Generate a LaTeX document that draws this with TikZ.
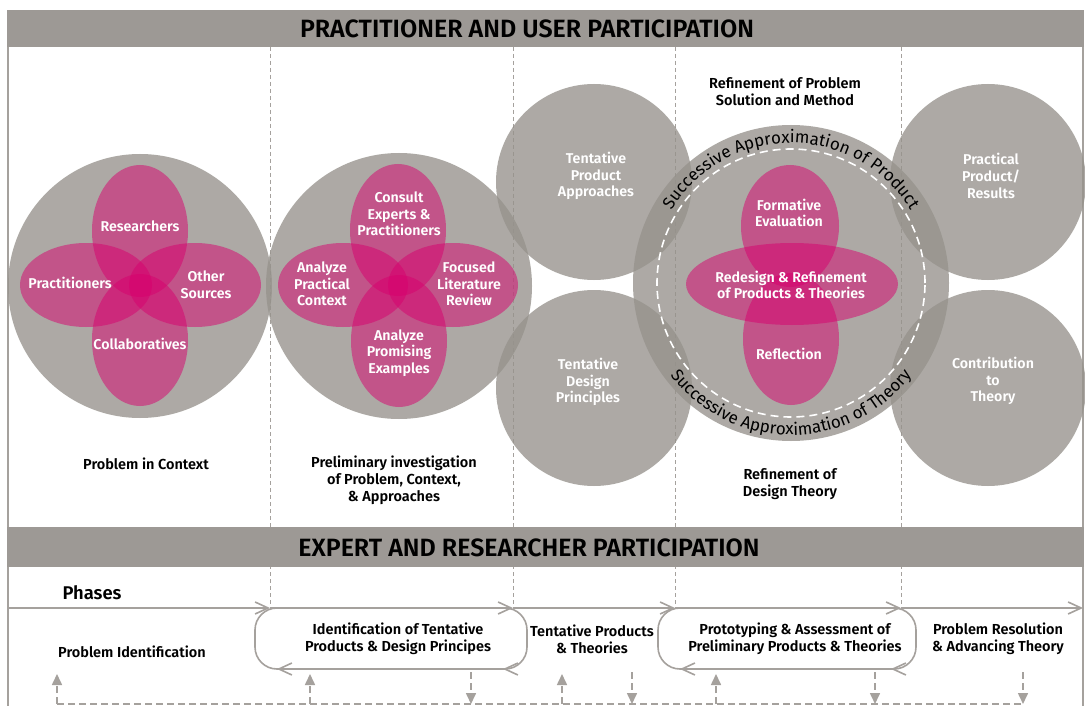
\documentclass[tikz,border=0pt]{standalone}
\usepackage{fontspec}
\setmainfont{Fira Sans}[BoldFont={Fira Sans SemiBold}]
\usetikzlibrary{arrows.meta,shapes.geometric,decorations.text}
\definecolor{band}{HTML}{9D9995}
\definecolor{lgray}{HTML}{A5A19D}
\definecolor{cgray}{HTML}{96928C}
\definecolor{mag}{HTML}{D7006E}
\begin{document}
\begin{tikzpicture}[x=1pt,y=-1pt,
  gcirc/.style={circle, fill=cgray, fill opacity=0.78, inner sep=0pt, minimum size=#1},
  mell/.style 2 args={ellipse, fill=mag, fill opacity=0.5, inner sep=0pt, minimum width=#1, minimum height=#2},
  wtxt/.style={text=white, font=\bfseries\fontsize{14.2}{16.7}\selectfont, align=center, inner sep=0pt},
  btxt/.style={text=black, font=\bfseries\fontsize{14.5}{17}\selectfont, align=center, inner sep=0pt},
  bandtxt/.style={text=black, font=\bfseries\fontsize{25}{28}\selectfont, inner sep=0pt},
  bandbox/.style={fill=band, inner sep=0pt, minimum width=1077pt, minimum height=#1, anchor=north west},
  vdash/.style={draw=lgray, line width=0.8pt, dash pattern=on 4pt off 3pt},
  frameline/.style={draw=lgray, line width=2pt},
  barb/.style={draw=lgray, line width=1.6pt, -{Straight Barb[length=13pt,width=12pt]}},
  loopline/.style={draw=lgray, line width=1.6pt, rounded corners=22pt},
  darr/.style={draw=lgray, line width=1.6pt, dash pattern=on 7pt off 4pt, -{Triangle[length=11pt,width=10pt]}},
  dline/.style={draw=lgray, line width=1.6pt, dash pattern=on 7pt off 4pt},
  arctext/.style={decorate, decoration={text along path, text align=center, text color=black, text={|\fontsize{17}{17}\selectfont|#1}}}
]
\path[use as bounding box] (0,0) rectangle (1085,706);
\fill[white] (0,0) rectangle (1085,706);

% vertical dashed separators
\foreach \x/\n in {270/1, 513/2, 675/3, 901/4} {
  \coordinate (vt\n) at (\x,47);
  \coordinate (p\n) at (\x,608);
  \draw[vdash] (vt\n) -- (p\n);
}
\coordinate (p0) at (8,608);
\coordinate (p5) at (1083,608);

% frame
\coordinate (fl1) at (8,47); \coordinate (fl2) at (8,706);
\coordinate (fr1) at (1083,47); \coordinate (fr2) at (1083,706);
\draw[frameline] (fl1) -- (fl2);
\draw[frameline] (fr1) -- (fr2);

% gray circles
\node[gcirc=264pt] (c1) at (140,286) {};
\node[gcirc=266pt] (c2) at (399,286) {};
\node[gcirc=196pt] (tpa) at (594,182) {};
\node[gcirc=196pt] (tdp) at (594,388) {};
\node[gcirc=316pt] (big) at (791,283) {};
\node[gcirc=196pt] (ppr) at (988,182) {};
\node[gcirc=196pt] (ctt) at (988,388) {};

% dashed white circle and arc texts
\draw[white, line width=1.6pt, dash pattern=on 8pt off 5pt] (big.center) circle[radius=134pt];
\path[arctext={Successive Approximation of Product}] ([shift={(170:140pt)}]big.center) arc[start angle=170, end angle=10, radius=140pt];
\path[arctext={Successive Approximation of Theory}] ([shift={(190:152pt)}]big.center) arc[start angle=190, end angle=350, radius=152pt];

% magenta ellipses
\node[mell={96pt}{132pt}] (e1t) at (140,231) {};
\node[mell={96pt}{132pt}] (e1b) at (140,340) {};
\node[mell={132pt}{84pt}] (e1l) at (86,285) {};
\node[mell={132pt}{84pt}] (e1r) at (195,285) {};

\node[mell={96pt}{132pt}] (e2t) at (398,230) {};
\node[mell={96pt}{132pt}] (e2b) at (399,341) {};
\node[mell={130pt}{84pt}] (e2l) at (343,285) {};
\node[mell={130pt}{84pt}] (e2r) at (453,285) {};

\node[mell={98pt}{122pt}] (e3t) at (790,226) {};
\node[mell={96pt}{132pt}] (e3b) at (791,339) {};
\node[mell={212pt}{82pt}] (e3h) at (792,284) {};

% white labels
\node[wtxt] (lres) at (140,226) {Researchers};
\node[wtxt] (lpra) at (70,283) {Practitioners};
\node[wtxt] (loth) at (206,285) {Other\\Sources};
\node[wtxt] (lcol) at (140,344) {Collaboratives};

\node[wtxt] (lcon) at (399,214) {Consult\\Experts \&\\Practitioners};
\node[wtxt] (lapc) at (322,284) {Analyze\\Practical\\Context};
\node[wtxt] (lflr) at (469,284) {Focused\\Literature\\Review};
\node[wtxt] (lape) at (399,353) {Analyze\\Promising\\Examples};

\node[wtxt] (ltpa) at (596,176) {Tentative\\Product\\Approaches};
\node[wtxt] (ltdp) at (588,382) {Tentative\\Design\\Principles};

\node[wtxt] (lfe) at (789,213) {Formative\\Evaluation};
\node[wtxt] (lrr) at (791,285) {Redesign \& Refinement\\of Products \& Theories};
\node[wtxt] (lref) at (789,354) {Reflection};

\node[wtxt] (lppr) at (991,176) {Practical\\Product/\\Results};
\node[wtxt] (lctt) at (993,381) {Contribution\\to\\Theory};

% black labels
\node[btxt] (lrpsm) at (785,92) {Refinement of Problem\\Solution and Method};
\node[btxt] (lrdt) at (790,484) {Refinement of\\Design Theory};
\node[btxt] (lpic) at (146,464) {Problem in Context};
\node[btxt] (lpi) at (394,480) {Preliminary investigation\\of Problem, Context,\\\& Approaches};

% bands
\node[bandbox=37pt] (band1) at (7,10) {};
\node[bandtxt] (band1t) at (527,29) {PRACTITIONER AND USER PARTICIPATION};
\node[bandbox=40pt] (band2) at (7,527) {};
\node[bandtxt] (band2t) at (529,548) {EXPERT AND RESEARCHER PARTICIPATION};

% phases
\node[text=black, font=\bfseries\fontsize{18.4}{20}\selectfont, inner sep=0pt] (phases) at (92,593) {Phases};
\draw[barb] (p0) -- (p1);
\draw[barb] (p1) -- (p2);
\draw[barb] (p2) -- (p3);
\draw[barb] (p3) -- (p4);
\draw[barb] (p4) -- (p5);

\draw[loopline] (255,608) rectangle (527,669);
\draw[loopline] (658,608) rectangle (916,669);
\coordinate (q1a) at (292,669); \coordinate (q1b) at (277,669);
\coordinate (q2a) at (507,669); \coordinate (q2b) at (503,669);
\coordinate (q3a) at (695,669); \coordinate (q3b) at (680,669);
\coordinate (q4a) at (895,669); \coordinate (q4b) at (891,669);
\draw[barb] (q1a) -- (q1b);
\draw[barb] (q2a) -- (q2b);
\draw[barb] (q3a) -- (q3b);
\draw[barb] (q4a) -- (q4b);

\node[btxt] (ph1) at (132,652) {Problem Identification};
\node[btxt] (ph2) at (398,639) {Identification of Tentative\\Products \& Design Principes};
\node[btxt] (ph3) at (592,639) {Tentative Products\\\& Theories};
\node[btxt] (ph4) at (795,639) {Prototyping \& Assessment of\\Preliminary Products \& Theories};
\node[btxt] (ph5) at (998,639) {Problem Resolution\\\& Advancing Theory};

% bottom dashed feedback arrows
\coordinate (hl) at (57,704); \coordinate (hr) at (1023,704);
\draw[dline] (hl) -- (hr);
\foreach \x/\n in {57/1, 310/2, 562/3, 716/4} {
  \coordinate (ub\n) at (\x,704);
  \coordinate (ut\n) at (\x,674);
  \draw[darr] (ub\n) -- (ut\n);
}
\foreach \x/\n in {471/1, 632/2, 875/3, 1023/4} {
  \coordinate (dt\n) at (\x,672);
  \coordinate (db\n) at (\x,704);
  \draw[darr] (dt\n) -- (db\n);
}
\end{tikzpicture}
\end{document}
